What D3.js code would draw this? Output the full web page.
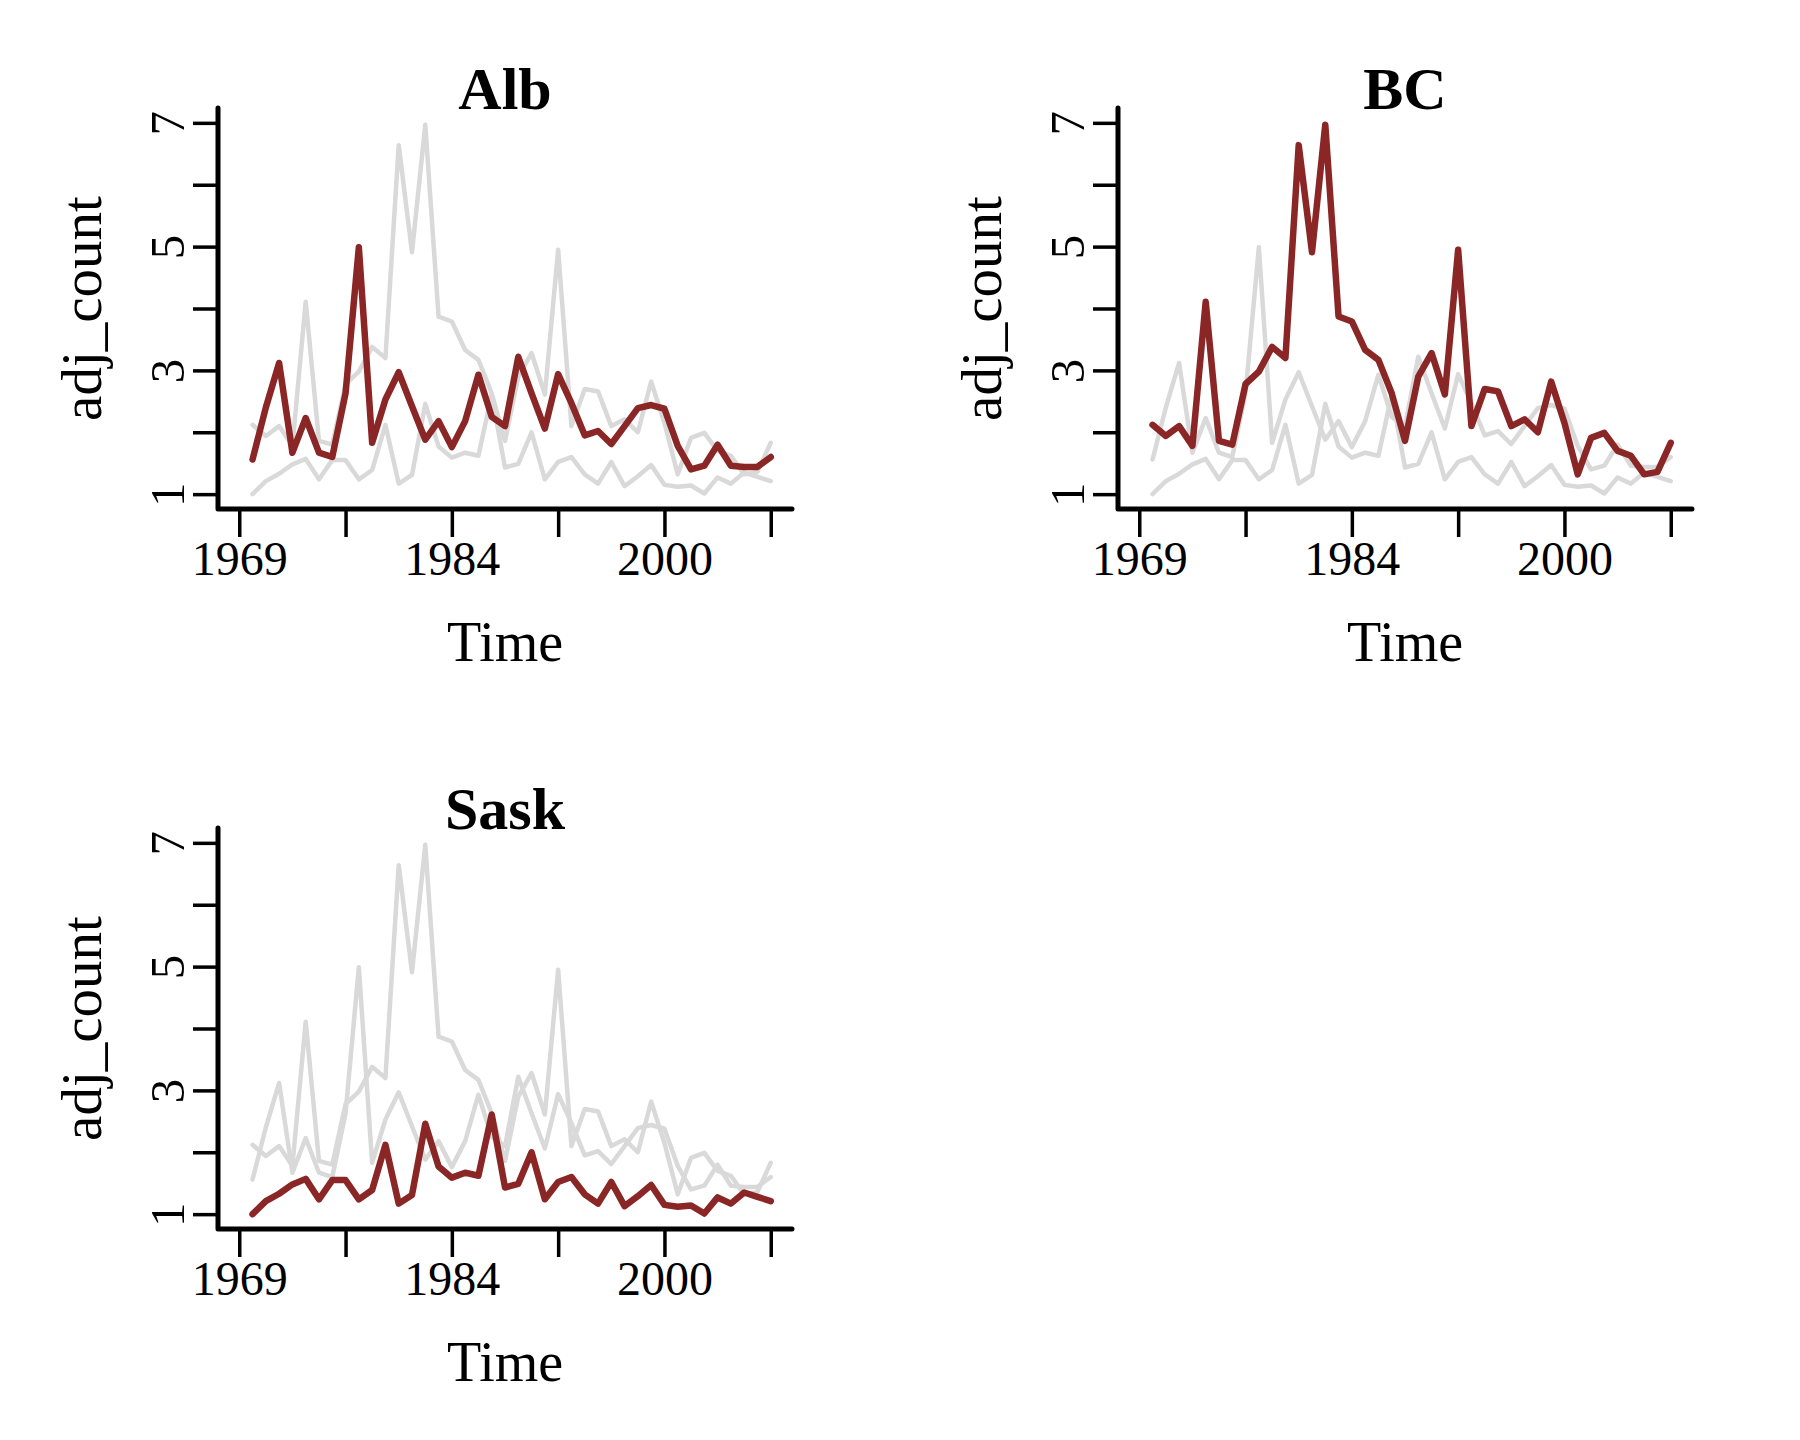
<!DOCTYPE html>
<html>
<head>
<meta charset="utf-8">
<script src="https://cdn.jsdelivr.net/npm/d3@7"></script>
<style>
  body { margin: 0; background: #fff; }
  svg text { font-family: "Liberation Serif", "Times New Roman", serif; fill: #000; }
</style>
</head>
<body>
<div id="chart"></div>
<script>
// panel names, in drawing order
const regions = ["Alb", "BC", "Sask"];

// adj_count per time step (40 steps each)
const albCounts = [1.56, 2.40, 3.12, 1.67, 2.23, 1.67, 1.60, 2.63, 4.99, 1.83,
  2.53, 2.97, 2.42, 1.88, 2.18, 1.76, 2.18, 2.93, 2.25, 2.10,
  3.22, 2.63, 2.06, 2.94, 2.47, 1.95, 2.02, 1.81, 2.10, 2.39,
  2.44, 2.38, 1.78, 1.40, 1.46, 1.80, 1.46, 1.44, 1.44, 1.60];
const bcCounts = [2.12, 1.94, 2.10, 1.78, 4.11, 1.86, 1.80, 2.78, 2.98, 3.38,
  3.20, 6.64, 4.91, 6.97, 3.87, 3.79, 3.33, 3.17, 2.63, 1.86,
  2.90, 3.28, 2.61, 4.95, 2.10, 2.70, 2.66, 2.10, 2.21, 2.00,
  2.82, 2.15, 1.32, 1.91, 1.99, 1.70, 1.62, 1.32, 1.36, 1.83];
const saskCounts = [1.00, 1.21, 1.33, 1.48, 1.57, 1.24, 1.55, 1.55, 1.24, 1.39,
  2.12, 1.17, 1.31, 2.46, 1.77, 1.59, 1.67, 1.62, 2.61, 1.43,
  1.49, 2.00, 1.24, 1.52, 1.60, 1.32, 1.17, 1.52, 1.13, 1.29,
  1.47, 1.15, 1.12, 1.14, 1.01, 1.27, 1.17, 1.35, 1.28, 1.21];

// time axis: 8 steps between ticks
const timeStart = 1969;
const timeStep = 0.96875;
const xTicks = [1969, 1976.75, 1984.5, 1992.25, 2000, 2007.75];
const xTickLabels = ["1969", "", "1984", "", "2000", ""];
const yTicks = [1, 2, 3, 4, 5, 6, 7];
const yTickLabels = ["1", "", "3", "", "5", "", "7"];

const counts = { Alb: albCounts, BC: bcCounts, Sask: saskCounts };
const times = albCounts.map((d, i) => timeStart + (i + 1) * timeStep);

const W = 1800, H = 1440;
const panelW = 900, panelH = 720;
const frame = { left: 218, right: 792, top: 108, bottom: 509 };
const red = "#8b2626";
const grey = "#d9d9d9";

const svg = d3.select("#chart").append("svg")
  .attr("width", W)
  .attr("height", H);

// R style 4% padding on both scales
const xPad = (xTicks[xTicks.length - 1] - xTicks[0]) * 0.04;
const x = d3.scaleLinear()
  .domain([xTicks[0] - xPad, xTicks[xTicks.length - 1] + xPad])
  .range([frame.left, frame.right]);
const yPad = (d3.max(yTicks) - d3.min(yTicks)) * 0.04;
const y = d3.scaleLinear()
  .domain([d3.min(yTicks) - yPad, d3.max(yTicks) + yPad])
  .range([frame.bottom, frame.top]);

const line = d3.line()
  .x((d, i) => x(times[i]))
  .y((d) => y(d));

regions.forEach((region, k) => {
  const g = svg.append("g")
    .attr("transform", `translate(${(k % 2) * panelW}, ${Math.floor(k / 2) * panelH})`);

  // every region in grey first, then the highlighted one on top
  regions.forEach((r) => {
    g.append("path")
      .datum(counts[r])
      .attr("fill", "none")
      .attr("stroke", grey)
      .attr("stroke-width", 4.5)
      .attr("stroke-linejoin", "round")
      .attr("stroke-linecap", "round")
      .attr("d", line);
  });
  g.append("path")
    .datum(counts[region])
    .attr("fill", "none")
    .attr("stroke", red)
    .attr("stroke-width", 6.5)
    .attr("stroke-linejoin", "round")
    .attr("stroke-linecap", "round")
    .attr("d", line);

  // x axis ticks and labels
  const xAxis = d3.axisBottom(x)
    .tickValues(xTicks)
    .tickSize(28)
    .tickSizeOuter(0)
    .tickFormat((d, i) => xTickLabels[i]);
  const gx = g.append("g")
    .attr("transform", `translate(0, ${frame.bottom})`)
    .call(xAxis);
  gx.select(".domain").remove();
  gx.selectAll(".tick line").attr("stroke", "#000").attr("stroke-width", 3.5);
  gx.selectAll(".tick text")
    .attr("y", 66)
    .attr("dy", null)
    .style("font-size", "48px");

  // y axis ticks and rotated labels
  const yAxis = d3.axisLeft(y)
    .tickValues(yTicks)
    .tickSize(25)
    .tickSizeOuter(0)
    .tickFormat((d, i) => yTickLabels[i]);
  const gy = g.append("g")
    .attr("transform", `translate(${frame.left}, 0)`)
    .call(yAxis);
  gy.select(".domain").remove();
  gy.selectAll(".tick line").attr("stroke", "#000").attr("stroke-width", 3.5);
  gy.selectAll(".tick text")
    .attr("x", null)
    .attr("dy", null)
    .attr("text-anchor", "middle")
    .attr("transform", "translate(-34, 0) rotate(-90)")
    .style("font-size", "49px");

  // L shaped box
  g.append("path")
    .attr("d", `M${frame.left},${frame.top}V${frame.bottom}H${frame.right}`)
    .attr("fill", "none")
    .attr("stroke", "#000")
    .attr("stroke-width", 5)
    .attr("stroke-linecap", "round")
    .attr("stroke-linejoin", "round");

  const cx = (frame.left + frame.right) / 2;

  // panel title
  g.append("text")
    .attr("x", cx)
    .attr("y", 109)
    .attr("text-anchor", "middle")
    .style("font-size", "60px")
    .style("font-weight", "bold")
    .text(region);

  // axis titles
  g.append("text")
    .attr("x", cx)
    .attr("y", 661)
    .attr("text-anchor", "middle")
    .style("font-size", "56px")
    .text("Time");

  g.append("text")
    .attr("transform", `translate(101, ${(frame.top + frame.bottom) / 2}) rotate(-90)`)
    .attr("text-anchor", "middle")
    .style("font-size", "57px")
    .text("adj_count");
});
</script>
</body>
</html>
